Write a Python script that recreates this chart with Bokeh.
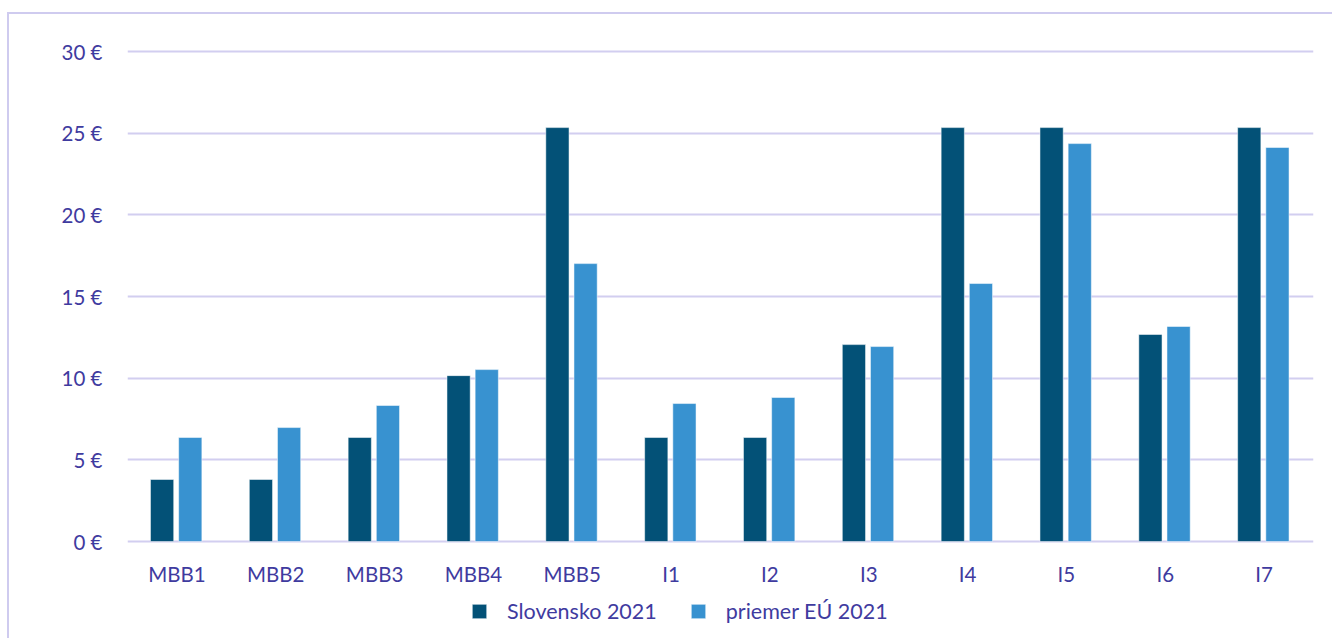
from bokeh.plotting import figure
from bokeh.models import ColumnDataSource, Range1d, Legend, LegendItem, FactorRange
from bokeh.transform import dodge
from bokeh.embed import file_html
from bokeh.resources import INLINE

categories = ["MBB1", "MBB2", "MBB3", "MBB4", "MBB5", "I1", "I2", "I3", "I4", "I5", "I6", "I7"]
slovensko_2021 = [3.8, 3.8, 6.37, 10.16, 25.35, 6.37, 6.37, 12.06, 25.35, 25.35, 12.68, 25.35]
priemer_eu_2021 = [6.37, 6.98, 8.33, 10.53, 17.02, 8.45, 8.82, 11.94, 15.8, 24.37, 13.17, 24.13]
y_ticks = [0, 5, 10, 15, 20, 25, 30]
series_names = ["Slovensko 2021", "priemer EÚ 2021"]

FONT = "Lato"
TXT = "#3f3b9f"
GRID = "#d2cef0"
DARK = "#035177"
LIGHT = "#3892d0"

src = ColumnDataSource(dict(cat=categories, sk=slovensko_2021, eu=priemer_eu_2021))

p = figure(x_range=FactorRange(*categories, range_padding=0.0), y_range=Range1d(-6.06, 30.5),
           width=1325, height=626, output_backend="svg", toolbar_location=None,
           min_border_left=118, min_border_right=21, min_border_top=29, min_border_bottom=0)
p.x_range.range_padding = 0

r1 = p.vbar(x=dodge("cat", -0.15, range=p.x_range), top="sk", width=0.235, source=src,
            fill_color=DARK, line_color="white", line_alpha=0.5, line_width=1)
r2 = p.vbar(x=dodge("cat", 0.135, range=p.x_range), top="eu", width=0.235, source=src,
            fill_color=LIGHT, line_color="white", line_alpha=0.5, line_width=1)

p.outline_line_color = None
p.xgrid.grid_line_color = None
p.ygrid.grid_line_color = GRID
p.ygrid.grid_line_width = 2
p.yaxis.ticker = y_ticks
p.yaxis.major_label_overrides = {t: f"{t} €" for t in y_ticks}
p.xaxis.fixed_location = 0

for ax in (p.xaxis[0], p.yaxis[0]):
    ax.axis_line_color = None
    ax.major_tick_line_color = None
    ax.minor_tick_line_color = None
    ax.major_label_text_font = FONT
    ax.major_label_text_font_size = "20.5px"
    ax.major_label_text_color = TXT
p.yaxis.major_label_standoff = 19
p.xaxis.major_label_standoff = 14

legend = Legend(items=[LegendItem(label=series_names[0], renderers=[r1]),
                       LegendItem(label=series_names[1], renderers=[r2])],
                orientation="horizontal", location=(343, 16),
                label_text_font=FONT, label_text_font_size="21.5px", label_text_color=TXT,
                glyph_width=18, glyph_height=18, spacing=32, label_standoff=19,
                border_line_color=None, background_fill_alpha=0, margin=0, padding=4)
p.add_layout(legend, "center")

p.styles = {"margin-top": "12px", "margin-left": "7px",
            "border-left": "2px solid #cfcbef", "border-top": "2px solid #cfcbef"}

open("out.html", "w").write(file_html(p, INLINE))
